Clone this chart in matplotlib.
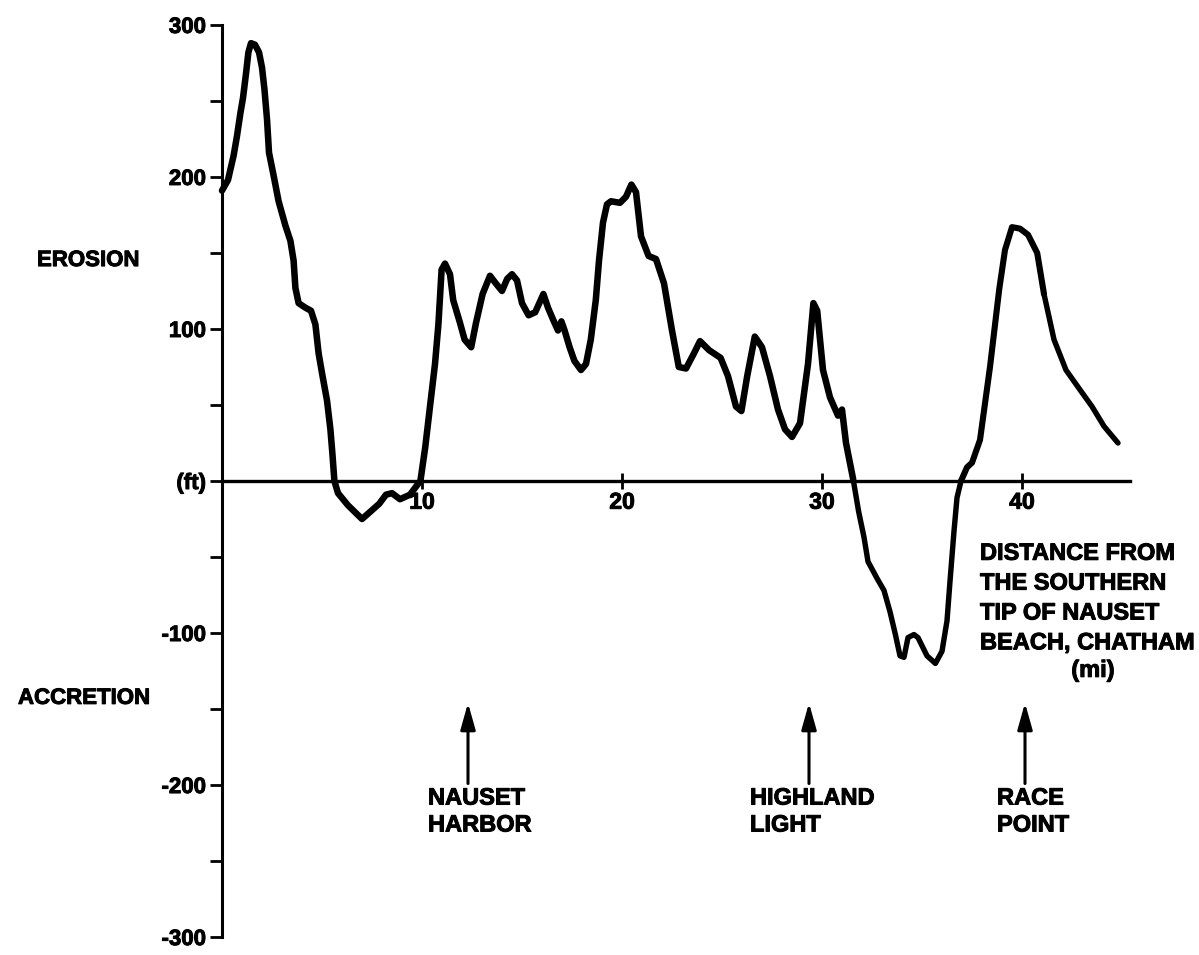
import matplotlib
matplotlib.use("Agg")
import matplotlib.pyplot as plt
import matplotlib.patheffects as pe

# Shoreline change along Nauset Beach / outer Cape Cod
distance_mi = [
    0.0, 0.3, 0.58, 0.75, 0.92, 1.05, 1.2, 1.32, 1.45, 1.65, 1.85, 2.0, 2.12,
    2.25, 2.35, 2.58, 2.83, 3.17, 3.42, 3.58, 3.67, 3.83, 4.17, 4.45, 4.67,
    4.83, 5.0, 5.25, 5.42, 5.52, 5.62, 5.8, 6.3, 7.0, 7.26, 7.86, 8.2, 8.5,
    8.9, 9.4, 9.74, 9.92, 10.16, 10.4, 10.65, 10.82, 10.98, 11.15, 11.4,
    11.56, 11.9, 12.13, 12.46, 12.7, 13.03, 13.4, 13.69, 14.0, 14.26, 14.5,
    14.75, 15.0, 15.33, 15.66, 16.07, 16.3, 16.56, 16.8, 16.97, 17.13, 17.38,
    17.62, 17.95, 18.2, 18.44, 18.69, 18.85, 19.05, 19.25, 19.45, 19.9, 20.2,
    20.47, 20.7, 20.95, 21.33, 21.7, 22.1, 22.5, 22.84, 23.2, 23.6, 23.9,
    24.36, 24.93, 25.3, 25.7, 25.97, 26.26, 26.64, 27.0, 27.4, 27.8, 28.15,
    28.5, 28.9, 29.3, 29.57, 29.76, 30.05, 30.4, 30.8, 31.0, 31.2, 31.56,
    31.83, 32.1, 32.3, 32.75, 33.1, 33.4, 33.67, 33.9, 34.1, 34.3, 34.6, 34.8,
    35.25, 35.67, 36.0, 36.25, 36.4, 36.6, 36.75, 36.95, 37.25, 37.5, 37.9,
    38.4, 38.86, 39.15, 39.5, 39.9, 40.3, 40.76, 41.1, 41.6, 42.2, 42.9, 43.5,
    44.1, 44.8,
]
change_ft = [
    191, 198, 214, 227, 242, 252, 268, 282, 288, 287, 282, 272, 258,
    238, 216, 201, 184, 168, 158, 145, 127, 117, 114, 112, 103,
    84, 71, 53, 34, 18, 0, -8, -16, -25, -22, -15, -9, -8,
    -12, -9, -3, 0, 22, 49, 77, 103, 139, 143, 136,
    119, 104, 93, 88, 104, 123, 135, 130, 125, 133, 136,
    132, 117, 109, 111, 123, 114, 106, 99, 105, 99, 88,
    79, 73, 77, 93, 119, 145, 170, 182, 184, 183, 187,
    195, 190, 161, 148, 146, 130, 99, 75, 74, 84, 92,
    86, 81, 69, 49, 46, 69, 95, 88, 69, 47, 34,
    29, 38, 77, 117, 112, 73, 55, 43, 47, 25, 1,
    -20, -37, -53, -64, -72, -86, -101, -115, -116, -103, -101, -103,
    -115, -120, -112, -92, -66, -33, -11, 0, 9, 12, 27,
    75, 126, 152, 167, 166, 162, 150, 123, 93, 73, 60, 49,
    36, 25,
]

y_ticks = [-300, -200, -100, 0, 100, 200, 300]
y_tick_labels = ["-300", "-200", "-100", "(ft)", "100", "200", "300"]
y_minor_ticks = [-250, -150, -50, 50, 150, 250]
x_ticks = [10, 20, 30, 40]
x_tick_labels = ["10", "20", "30", "40"]

# Landmarks along the coast (mile position)
landmarks = ["NAUSET\nHARBOR", "HIGHLAND\nLIGHT", "RACE\nPOINT"]
landmark_mi = [12.3, 29.35, 40.15]
landmark_text_mi = [10.3, 26.4, 38.75]

FONT = "Liberation Sans"
ink = [pe.withStroke(linewidth=0.7, foreground="black")]

fig = plt.figure(figsize=(11.99, 9.55), dpi=100)
ax = fig.add_axes([0, 0, 1, 1])
ax.set_xlim(-11.1, 48.85)
ax.set_ylim(-311.8, 316.4)

for side in ("top", "right"):
    ax.spines[side].set_visible(False)
ax.spines["left"].set_position(("data", 0))
ax.spines["bottom"].set_position(("data", 0))
ax.spines["left"].set_bounds(-300, 300)
ax.spines["bottom"].set_bounds(0, 45.4)
ax.spines["left"].set_linewidth(2.2)
ax.spines["bottom"].set_linewidth(2.4)

ax.set_yticks(y_ticks)
ax.set_yticklabels(y_tick_labels, fontfamily=FONT, fontweight="bold", fontsize=16)
ax.set_yticks(y_minor_ticks, minor=True)
ax.tick_params(axis="y", which="both", direction="out", length=8.5, width=2, pad=3)

ax.set_xticks(x_ticks)
ax.set_xticklabels(x_tick_labels, fontfamily=FONT, fontweight="bold", fontsize=16.5)
ax.tick_params(axis="x", which="major", direction="inout", length=12, width=2, pad=1)
for lab in ax.get_xticklabels() + ax.get_yticklabels():
    lab.set_path_effects(ink)


def span(lo, hi):
    idx = [i for i, d in enumerate(distance_mi) if lo <= d <= hi]
    return [distance_mi[i] for i in idx], [change_ft[i] for i in idx]


# Pen weight of the traced profile varies slightly along the coast
for lo, hi, lw in [(0.0, 31.56, 4.7), (31.56, 36.95, 3.9),
                   (36.95, 41.1, 4.4), (41.1, 45.0, 3.9)]:
    xs, ys = span(lo, hi)
    ax.plot(xs, ys, color="black", lw=lw,
            solid_joinstyle="round", solid_capstyle="round")

txt = dict(fontfamily=FONT, fontweight="bold", color="black", path_effects=ink)
ax.text(-9.25, 145, "EROSION", ha="left", va="center", fontsize=16, **txt)
ax.text(-10.2, -143, "ACCRETION", ha="left", va="center", fontsize=16, **txt)

ax.text(37.9, -40, "DISTANCE FROM\nTHE SOUTHERN\nTIP OF NAUSET\nBEACH, CHATHAM",
        ha="left", va="top", linespacing=1.38, fontsize=17, **txt)
ax.text(43.55, -117, "(mi)", ha="center", va="top", fontsize=17, **txt)

for name, mx, tx in zip(landmarks, landmark_mi, landmark_text_mi):
    ax.annotate("", xy=(mx, -146), xytext=(mx, -199),
                arrowprops=dict(arrowstyle="-|>,head_length=1.6,head_width=0.45",
                                lw=2.2, color="black", shrinkA=0, shrinkB=0,
                                mutation_scale=10))
    ax.text(tx, -201, name, ha="left", va="top", linespacing=1.22,
            fontsize=17, **txt)

fig.savefig("out.png", dpi=100, facecolor="white")
